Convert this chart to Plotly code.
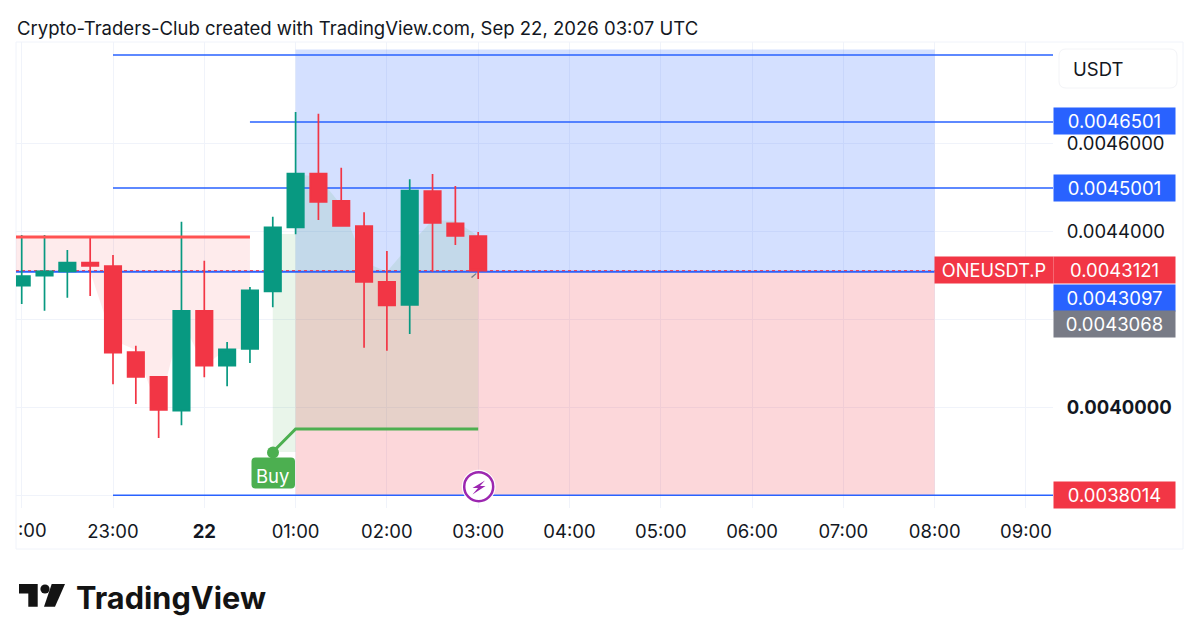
import pandas as pd
import plotly.graph_objects as go

# candles, 15 minute bars
TIMES = pd.date_range("2026-09-21 22:00", periods=21, freq="15min")
OPEN = [0.0042780, 0.0043007, 0.0043107, 0.0043302, 0.0043227, 0.0041273, 0.0040705, 0.0039939, 0.0042205, 0.0040961, 0.0041341,
        0.0042652, 0.0044107, 0.0045325, 0.0044705, 0.0044136, 0.0042864, 0.0042341, 0.0044932, 0.0044198, 0.0043909]
HIGH = [0.0043932, 0.0043932, 0.0043591, 0.0043886, 0.0043477, 0.0041416, 0.0040705, 0.0044234, 0.0043348, 0.0041500, 0.0042750,
        0.0044348, 0.0046727, 0.0046689, 0.0045461, 0.0044448, 0.0043568, 0.0045198, 0.0045318, 0.0045045, 0.0044000]
LOW = [0.0042364, 0.0042211, 0.0042507, 0.0042545, 0.0040539, 0.0040091, 0.0039318, 0.0039607, 0.0040698, 0.0040493, 0.0041023,
       0.0042289, 0.0043948, 0.0044273, 0.0044136, 0.0041370, 0.0041302, 0.0041682, 0.0043098, 0.0043705, 0.0042932]
CLOSE = [0.0043000, 0.0043107, 0.0043302, 0.0043227, 0.0041257, 0.0040705, 0.0039955, 0.0042205, 0.0040961, 0.0041334, 0.0042675,
         0.0044107, 0.0045325, 0.0044682, 0.0044136, 0.0042864, 0.0042334, 0.0044939, 0.0044205, 0.0043909, 0.0043121]

# price levels
TOP_LEVEL = 0.0048023
TP2 = 0.0046501
TP1 = 0.0045001
LAST = 0.0043121
ENTRY = 0.0043097
STOP = 0.0038014
RED_LEVEL = 0.0043886
GREEN_LEVEL = 0.0039523

# shaded areas
PINK_TIMES = ["21:56:15", "22:45", "23:00", "23:15", "23:30", "23:45", "00:00", "00:15", "00:30"]
PINK_LOWER = [ENTRY, ENTRY, 0.0041545, 0.0041318, 0.0039955, 0.0042000, 0.0040961, 0.0041341, 0.0041341]
PROFIT_TIMES = ["01:00", "01:15", "01:30", "01:45", "02:00", "02:15", "02:30", "02:45", "03:00"]
PROFIT_UPPER = [0.0045318, 0.0045250, 0.0044614, 0.0043318, ENTRY, 0.0043705, 0.0044273, 0.0044250, 0.0043909]
PRE_TOP = 0.0043955

# axis labels
X_TICKS = ["22:00", "23:00", "00:00", "01:00", "02:00", "03:00", "04:00", "05:00", "06:00", "07:00", "08:00", "09:00"]
X_LABELS = ["", "23:00", "<b>22</b>", "01:00", "02:00", "03:00", "04:00", "05:00", "06:00", "07:00", "08:00", "09:00"]
Y_TICKS = [0.0046, 0.0044, 0.0042, 0.0040, 0.0038]
Y_LABELS = ["0.0046000", "0.0044000", "", "<b>0.0040000</b>", ""]

W, H = 1199, 643
L, R, T, B = 16, 1053, 42, 508
FONT = "Inter, Roboto, sans-serif"
SIZE = 18.5
INK = "#131722"
GRID = "#f0f3fa"
BLUE = "#2962ff"
RED = "#f23645"
TEAL = "#089981"
LIME = "#4caf50"


def stamp(clock):
    # clock time to a full date, the chart crosses midnight
    day = "2026-09-21" if clock >= "20" else "2026-09-22"
    return f"{day} {clock}"


def px(x):
    return (x - L) / (R - L)


def py(y):
    return (B - y) / (B - T)


def polygon(clocks, prices, base):
    points = [(stamp(c).replace(" ", "_"), p) for c, p in zip(clocks, prices)]
    first, last = points[0][0], points[-1][0]
    path = f"M{first},{base} " + " ".join(f"L{x},{y}" for x, y in points) + f" L{last},{base} Z"
    return path


def label(x, y, text, bg=None, color="white", size=SIZE, width=None, height=None, anchor="center"):
    fig.add_annotation(
        xref="paper", yref="paper", x=px(x), y=py(y), text=text, showarrow=False, xanchor=anchor, yanchor="middle",
        font={"family": FONT, "size": size, "color": color}, bgcolor=bg, width=width, height=height, borderpad=0,
    )


def pixel_path(points, fill, line_color=None, line_width=0, layer="above"):
    path = "M" + " L".join(f"{px(x)},{py(y)}" for x, y in points) + " Z"
    fig.add_shape(type="path", xref="paper", yref="paper", path=path, fillcolor=fill,
                  line={"color": line_color or fill, "width": line_width}, layer=layer)


def rounded_box(x0, y0, x1, y1, r, fill, line_color=None, line_width=0, layer="above"):
    def p(x, y):
        return f"{px(x)},{py(y)}"

    path = (
        f"M{p(x0 + r, y0)} L{p(x1 - r, y0)} Q{p(x1, y0)} {p(x1, y0 + r)} L{p(x1, y1 - r)} Q{p(x1, y1)} {p(x1 - r, y1)} "
        f"L{p(x0 + r, y1)} Q{p(x0, y1)} {p(x0, y1 - r)} L{p(x0, y0 + r)} Q{p(x0, y0)} {p(x0 + r, y0)} Z"
    )
    fig.add_shape(type="path", xref="paper", yref="paper", path=path, fillcolor=fill,
                  line={"color": line_color or fill, "width": line_width}, layer=layer)


def pixel_circle(cx, cy, r, fill, line_color=None, line_width=0):
    fig.add_shape(type="circle", xref="paper", yref="paper", x0=px(cx - r), x1=px(cx + r), y0=py(cy + r), y1=py(cy - r),
                  fillcolor=fill, line={"color": line_color or fill, "width": line_width})


fig = go.Figure()

fig.add_trace(go.Candlestick(
    x=TIMES, open=OPEN, high=HIGH, low=LOW, close=CLOSE,
    increasing={"line": {"color": TEAL, "width": 1.7}, "fillcolor": TEAL},
    decreasing={"line": {"color": RED, "width": 1.7}, "fillcolor": RED},
    whiskerwidth=0, showlegend=False,
))
fig.add_trace(go.Scatter(
    x=[stamp("21:56:15"), stamp("00:30")], y=[RED_LEVEL, RED_LEVEL], mode="lines",
    line={"color": "#ff5252", "width": 3}, showlegend=False, hoverinfo="skip",
))
fig.add_trace(go.Scatter(
    x=[stamp("00:45"), stamp("01:00"), stamp("03:00")], y=[0.0039000, GREEN_LEVEL, GREEN_LEVEL], mode="lines",
    line={"color": LIME, "width": 3}, showlegend=False, hoverinfo="skip",
))

# position tool, back to front
fig.add_shape(type="rect", x0=stamp("01:00"), x1=stamp("08:00"), y0=ENTRY, y1=0.0048150,
              fillcolor="rgba(41,98,255,0.2)", line_width=0, layer="between")
fig.add_shape(type="rect", x0=stamp("01:00"), x1=stamp("08:00"), y0=STOP, y1=ENTRY,
              fillcolor="rgba(242,54,69,0.2)", line_width=0, layer="between")
fig.add_shape(type="path", path=polygon(PINK_TIMES, PINK_LOWER, RED_LEVEL),
              fillcolor="rgba(242,54,69,0.1)", line_width=0, layer="between")
fig.add_shape(type="rect", x0=stamp("00:45"), x1=stamp("01:00"), y0=0.0039000, y1=PRE_TOP,
              fillcolor="rgba(76,175,80,0.12)", line_width=0, layer="between")
fig.add_shape(type="rect", x0=stamp("01:00"), x1=stamp("03:00"), y0=GREEN_LEVEL, y1=ENTRY,
              fillcolor="rgba(76,175,80,0.12)", line_width=0, layer="between")
fig.add_shape(type="path", path=polygon(PROFIT_TIMES, PROFIT_UPPER, ENTRY),
              fillcolor="rgba(76,175,80,0.12)", line_width=0, layer="between")

for level, start, end, width in [
    (TOP_LEVEL, "23:00", "09:17:46", 1.5),
    (TP2, "00:30", "09:17:46", 1.5),
    (TP1, "23:00", "09:17:46", 1.5),
    (ENTRY, "21:56:15", "08:00", 2),
    (STOP, "23:00", "09:17:46", 1.5),
]:
    fig.add_shape(type="line", x0=stamp(start), x1=stamp(end), y0=level, y1=level,
                  line={"color": BLUE, "width": width}, layer="between")
fig.add_shape(type="line", x0=stamp("21:56:15"), x1=stamp("08:00"), y0=LAST, y1=LAST,
              line={"color": RED, "width": 1, "dash": "dot"}, layer="between")

fig.update_layout(
    width=W, height=H, margin={"l": L, "r": W - R, "t": T, "b": H - B, "autoexpand": False},
    paper_bgcolor="white", plot_bgcolor="white", showlegend=False, boxgap=0.28, boxgroupgap=0,
    font={"family": FONT, "size": SIZE, "color": INK},
)
fig.update_xaxes(
    type="date", range=[stamp("21:56:15"), stamp("09:17:46")], rangeslider_visible=False,
    tickmode="array", tickvals=[stamp(c) for c in X_TICKS], ticktext=X_LABELS, tickangle=0,
    showgrid=True, gridcolor=GRID, gridwidth=1, zeroline=False, showline=False,
    ticks="outside", ticklen=7, tickcolor="rgba(0,0,0,0)",
)
fig.update_yaxes(
    side="right", range=[0.0037727, 0.0048318], tickmode="array", tickvals=Y_TICKS, ticktext=Y_LABELS,
    showgrid=True, gridcolor=GRID, gridwidth=1, zeroline=False, showline=False,
    ticks="outside", ticklen=9, tickcolor="rgba(0,0,0,0)",
)

# frame and currency box
fig.add_shape(type="rect", xref="paper", yref="paper", x0=px(16), x1=px(1183), y0=py(549), y1=py(42),
              line={"color": GRID, "width": 1}, layer="below")
rounded_box(1059, 49, 1177, 88, 7, "white", "#f3f4f7", 1, layer="below")

# gray arrow stub at the last candle
pixel_path([(471, 277), (476, 273), (476.5, 274), (472, 278)], "#787b86")

# buy marker
pixel_circle(273, 452.5, 6, LIME)
rounded_box(251.5, 457.5, 295, 488.5, 4, LIME)
label(272.5, 476, "Buy")

# lightning marker
pixel_circle(478.7, 486.7, 16.5, "white", "white", 1)
pixel_circle(478.7, 486.7, 14.5, "white", "#9c27b0", 2.5)
pixel_path([(485, 480.5), (472.5, 488), (478, 488), (472.5, 494.5), (485.5, 486), (480, 486)], "#9c27b0")

# right scale boxes
label(1114.5, 121.5, "0.0046501", BLUE, width=121, height=26)
label(1114.5, 188, "0.0045001", BLUE, width=121, height=26)
label(1114.5, 270.3, "0.0043121", RED, width=121, height=26)
label(1114.5, 297.5, "0.0043097", BLUE, width=121, height=26)
label(1114.5, 324, "0.0043068", "#787b86", width=121, height=26)
label(1114.5, 495.4, "0.0038014", RED, width=121, height=26)
label(993.5, 270.3, "ONEUSDT.P", RED, size=18.2, width=118, height=26)
label(1072, 69, "USDT", color=INK, anchor="left")

# clipped first time label, header and logo
label(47.5, 530, ":00", color=INK, anchor="right")
label(16, 28, "Crypto-Traders-Club created with TradingView.com, Sep 22, 2026 03:07 UTC", color=INK, size=18.55, anchor="left")
pixel_path([(19, 584), (37.7, 584), (37.7, 606.7), (28.3, 606.7), (28.3, 593.5), (19, 593.5)], "#131313")
pixel_circle(45, 589, 4.6, "#131313")
pixel_path([(51.7, 584), (65, 584), (55, 606.7), (44, 606.7)], "#131313")
label(75, 597, "<b>TradingView</b>", color="#131313", size=30.7, anchor="left")

fig.write_html("out.html", post_script="document.body.style.margin = '0';", config={"displayModeBar": False})
